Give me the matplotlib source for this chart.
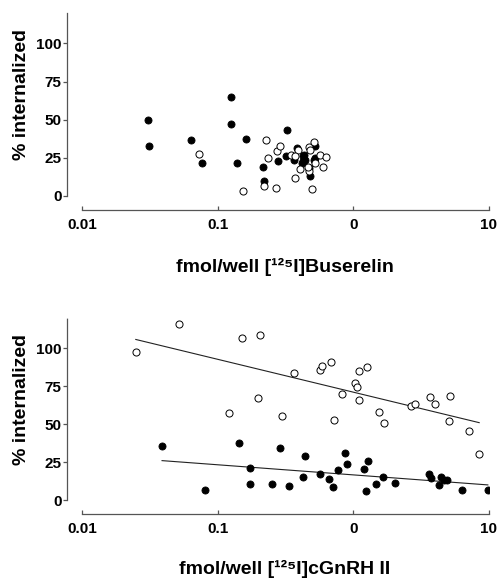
import matplotlib as mpl
import matplotlib.pyplot as plt
import numpy as np

mpl.rcParams['font.family'] = ['Liberation Sans', 'DejaVu Sans']
mpl.rcParams['font.weight'] = 'bold'

# [125I]Buserelin, filled = one cell line, open = the other
bus_filled_x = [0.0309, 0.0314, 0.0637, 0.0764, 0.1265, 0.1245, 0.162, 0.138,
                0.215, 0.219, 0.326, 0.28, 0.321, 0.386, 0.365, 0.42, 0.433,
                0.445, 0.476, 0.484, 0.527, 0.519, 0.43, 0.423, 0.512]
bus_filled_y = [49.9, 32.5, 36.7, 21.8, 64.6, 47.3, 37.4, 21.3,
                19.1, 9.9, 43.3, 23.1, 26.2, 31.7, 23.3, 21.5, 26.6,
                23.7, 18.2, 13.2, 32.5, 24.8, 25.9, 22.6, 23.7]
bus_open_x = [0.073, 0.155, 0.226, 0.234, 0.219, 0.269, 0.273, 0.291, 0.349,
              0.392, 0.373, 0.372, 0.402, 0.476, 0.516, 0.484, 0.567, 0.632,
              0.525, 0.604, 0.501, 0.476, 0.462]
bus_open_y = [27.3, 3.1, 36.5, 25.1, 6.6, 5.5, 29.5, 32.5, 26.8,
              29.9, 26.0, 11.9, 17.4, 32.1, 35.2, 29.9, 26.6, 25.3,
              21.5, 18.9, 4.6, 16.1, 18.9]

# [125I]cGnRH II
cg_open_x = [0.0249, 0.0522, 0.1216, 0.1526, 0.197, 0.207, 0.301, 0.367,
             0.568, 0.59, 0.684, 0.72, 0.829, 1.035, 1.06, 1.10, 1.10, 1.26,
             1.54, 1.69, 2.67, 2.87, 3.72, 4.03, 5.17, 5.14, 7.22, 8.51]
cg_open_y = [97.6, 115.8, 57.2, 106.8, 67.3, 108.8, 55.5, 83.6,
             85.5, 88.4, 90.8, 52.6, 69.5, 77.2, 74.1, 66.0, 85.1, 87.5,
             57.9, 50.4, 61.8, 62.9, 67.5, 62.9, 68.4, 51.8, 45.6, 30.3]
cg_filled_x = [0.0389, 0.0803, 0.145, 0.172, 0.172, 0.250, 0.291, 0.335,
               0.427, 0.445, 0.570, 0.665, 0.708, 0.77, 0.868, 0.898, 1.20,
               1.25, 1.29, 1.47, 1.66, 2.03, 3.64, 3.77, 4.29, 4.46, 4.72,
               4.91, 6.41, 9.86]
cg_filled_y = [35.7, 6.4, 37.7, 20.8, 10.3, 10.3, 34.2, 9.4,
               14.9, 29.2, 16.9, 14.0, 8.3, 19.5, 31.1, 23.5, 20.2,
               6.1, 25.4, 10.7, 14.9, 11.0, 16.9, 14.3, 9.9, 14.9, 13.2,
               13.2, 6.4, 6.4]

xticks = [0.01, 0.1, 1, 10]
xticklabels = ['0.01', '0.1', '0', '10']
yticks = [0, 25, 50, 75, 100]

fig = plt.figure(figsize=(4.99, 5.8), dpi=100)
ax1 = fig.add_axes([0.1343, 0.638, 0.845, 0.3397])
ax2 = fig.add_axes([0.1343, 0.1138, 0.845, 0.3386])

axis_col = '#555555'


def style(ax, dotted):
    ax.set_xscale('log')
    ax.set_xlim(0.00774, 10)
    ax.set_ylim(-9.2, 120)
    for s in ['top', 'right']:
        ax.spines[s].set_visible(False)
    ax.spines['left'].set_bounds(0, 120)
    ax.spines['bottom'].set_bounds(0.01, 10)
    ax.spines['left'].set_color(axis_col)
    ax.spines['bottom'].set_color(axis_col)
    ax.spines['left'].set_linewidth(0.9)
    ax.spines['bottom'].set_linewidth(0.9)
    if dotted:
        ax.spines['left'].set_linestyle((0, (1, 1)))
    ax.set_xticks(xticks)
    ax.set_xticklabels(xticklabels)
    ax.xaxis.set_minor_locator(mpl.ticker.NullLocator())
    ax.set_yticks(yticks)
    ax.tick_params(axis='x', direction='in', length=3, width=0.9,
                   color=axis_col, labelsize=11, pad=6)
    ax.tick_params(axis='y', direction='out', length=3, width=0.9,
                   color=axis_col, labelsize=11, pad=1)
    for lab in ax.get_xticklabels() + ax.get_yticklabels():
        lab.set_fontweight('bold')
    ax.text(-0.108, 0.585, '% internalized', transform=ax.transAxes,
            rotation=90, ha='center', va='center', fontsize=14,
            fontweight='bold')


def fit_line(ax, x, y):
    lx = np.log10(x)
    b, a = np.polyfit(lx, y, 1)
    xs = np.array([min(x), max(x)])
    ax.plot(xs, a + b * np.log10(xs), color='#222222', lw=0.8, zorder=2)


style(ax1, False)
ax1.scatter(bus_filled_x, bus_filled_y, s=26, c='black', edgecolors='black',
            linewidths=0.6, zorder=3)
ax1.scatter(bus_open_x, bus_open_y, s=26, c='white', edgecolors='black',
            linewidths=0.7, zorder=3)
ax1.text(0.517, -0.315, 'fmol/well [\u00b9\u00b2\u2075I]Buserelin',
         transform=ax1.transAxes, ha='center', va='baseline', fontsize=14,
         fontweight='bold')

style(ax2, True)
fit_line(ax2, cg_open_x, cg_open_y)
fit_line(ax2, cg_filled_x, cg_filled_y)
ax2.scatter(cg_open_x, cg_open_y, s=26, c='white', edgecolors='black',
            linewidths=0.7, zorder=3)
ax2.scatter(cg_filled_x, cg_filled_y, s=26, c='black', edgecolors='black',
            linewidths=0.6, zorder=3)
ax2.text(0.517, -0.305, 'fmol/well [\u00b9\u00b2\u2075I]cGnRH II',
         transform=ax2.transAxes, ha='center', va='baseline', fontsize=14,
         fontweight='bold')

fig.savefig('out.png', dpi=100)
